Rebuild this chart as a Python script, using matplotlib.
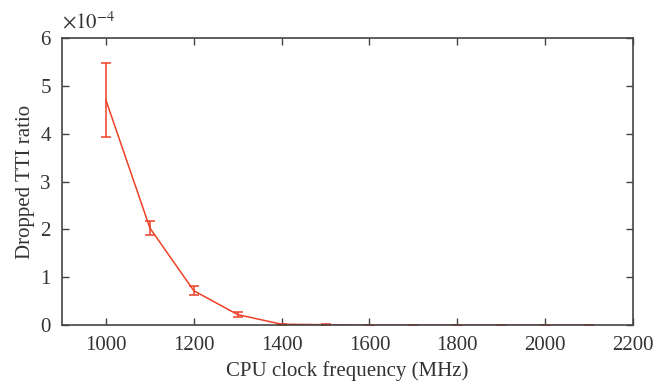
import numpy as np
import matplotlib.pyplot as plt

plt.rcParams['font.family'] = ['Liberation Serif', 'DejaVu Serif']
plt.rcParams['mathtext.fontset'] = 'stix'

# CPU clock frequency (MHz)
freq = [1000, 1100, 1200, 1300, 1400, 1500, 1600, 1700, 1800, 1900, 2000, 2100]
# dropped TTI ratio, in units of 1e-4
ratio = [4.70, 2.03, 0.72, 0.22, 0.02, 0.01, 0.0, 0.0, 0.0, 0.0, 0.0, 0.0]
err_lo = [0.78, 0.15, 0.10, 0.05, 0.01, 0.01, 0.0, 0.0, 0.0, 0.0, 0.0, 0.0]
err_hi = [0.77, 0.15, 0.10, 0.05, 0.01, 0.01, 0.0, 0.0, 0.0, 0.0, 0.0, 0.0]

col = '#ee4128'
axcol = '#444444'

fig = plt.figure(figsize=(6.67, 3.83), dpi=100)
ax = fig.add_axes([0.093, 0.151, 0.856, 0.750])

ax.errorbar(freq, ratio, yerr=[err_lo, err_hi], color=col, lw=1.1,
            elinewidth=1.1, capsize=3.5, capthick=1.1)

ax.set_xlim(900, 2200)
ax.set_ylim(0, 6)
ax.set_xticks(range(1000, 2201, 200))
ax.set_yticks(range(0, 7))

for s in ax.spines.values():
    s.set_color(axcol)
    s.set_linewidth(1.2)
ax.tick_params(direction='in', top=True, right=True, colors=axcol,
               labelcolor='#333333', labelsize=15, length=5, width=1, pad=8)

ax.set_xlabel('CPU clock frequency (MHz)', fontsize=15, color='#333333', labelpad=4)
ax.set_ylabel('Dropped TTI ratio', fontsize=15, color='#333333', labelpad=4)
ax.text(0.0, 1.015, r'$\times10^{-4}$', transform=ax.transAxes, fontsize=15,
        color='#333333', ha='left', va='bottom')

fig.savefig('out.png', dpi=100)
